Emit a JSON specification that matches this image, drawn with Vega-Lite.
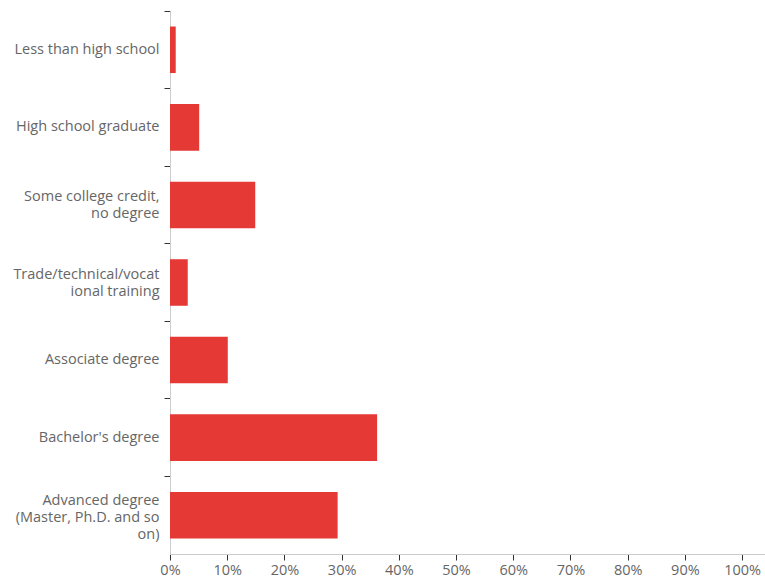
{
  "$schema": "https://vega.github.io/schema/vega-lite/v6.json",
  "width": 595,
  "height": 543,
  "autosize": "none",
  "padding": {"left": 170, "top": 11, "right": 0, "bottom": 30},
  "background": "white",
  "config": {"view": {"stroke": null}, "font": "Open Sans"},
  "data": {
    "values": [
      {"education": "Less than high school", "pct": 1.0},
      {"education": "High school graduate", "pct": 5.1},
      {"education": "Some college credit, no degree", "pct": 14.9},
      {"education": "Trade/technical/vocational training", "pct": 3.1},
      {"education": "Associate degree", "pct": 10.1},
      {"education": "Bachelor's degree", "pct": 36.2},
      {"education": "Advanced degree (Master, Ph.D. and so on)", "pct": 29.3}
    ]
  },
  "mark": {"type": "bar", "color": "#e53935", "height": {"band": 0.6}},
  "encoding": {
    "y": {
      "field": "education",
      "type": "nominal",
      "sort": null,
      "scale": {"paddingInner": 0, "paddingOuter": 0},
      "axis": {
        "title": null,
        "bandPosition": 0,
        "tickSize": 6,
        "tickColor": "#333333",
        "domainColor": "#cccccc",
        "labelColor": "#666666",
        "labelFontSize": 14.5,
        "labelPadding": 5,
        "labelLineHeight": 17,
        "labelLimit": 200,
        "labelOffset": {
          "condition": [
            {"test": "datum.value == 'Advanced degree (Master, Ph.D. and so on)'", "value": -14},
            {"test": "datum.value == 'Some college credit, no degree' || datum.value == 'Trade/technical/vocational training'", "value": -8}
          ],
          "value": 0
        },
        "labelExpr": "datum.value == 'Some college credit, no degree' ? ['Some college credit,', 'no degree'] : datum.value == 'Trade/technical/vocational training' ? ['Trade/technical/vocat', 'ional training'] : datum.value == 'Advanced degree (Master, Ph.D. and so on)' ? ['Advanced degree', '(Master, Ph.D. and so', 'on)'] : datum.value"
      }
    },
    "x": {
      "field": "pct",
      "type": "quantitative",
      "scale": {"domain": [0, 104], "nice": false},
      "axis": {
        "title": null,
        "grid": false,
        "values": [0, 10, 20, 30, 40, 50, 60, 70, 80, 90, 100],
        "labelExpr": "datum.value + '%'",
        "tickSize": 6,
        "tickColor": "#333333",
        "domainColor": "#cccccc",
        "labelColor": "#666666",
        "labelFontSize": 14.5,
        "labelPadding": 3,
        "labelFlush": false
      }
    }
  }
}
